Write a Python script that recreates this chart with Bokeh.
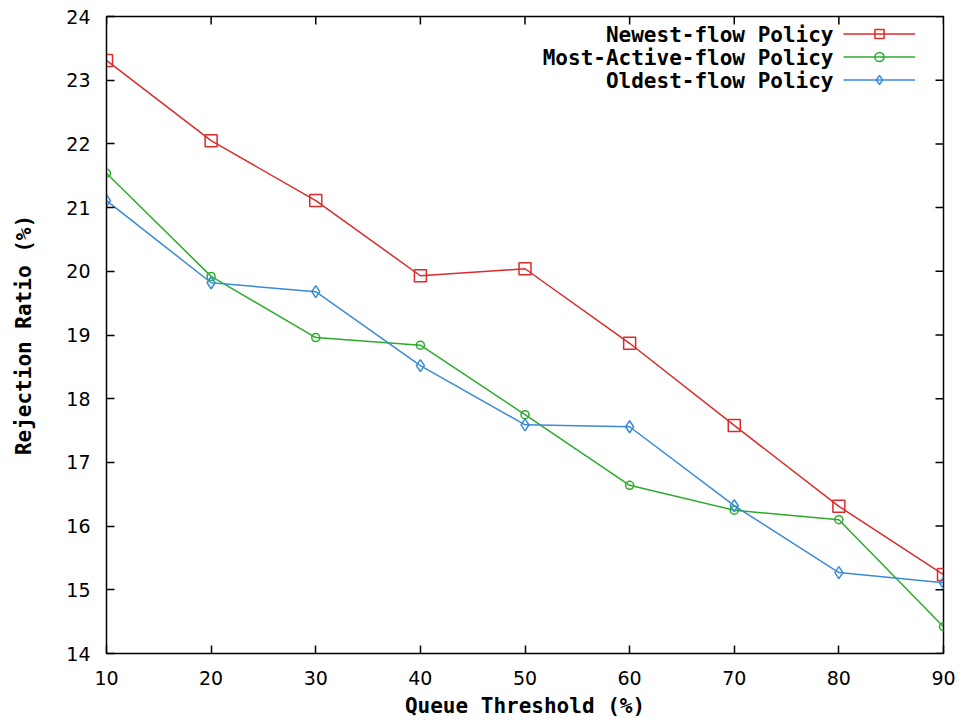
import math
from bokeh.plotting import figure
from bokeh.models import Range1d, FixedTicker, Legend, LegendItem, Label
from bokeh.embed import file_html
from bokeh.resources import INLINE

thresholds = [10, 20, 30, 40, 50, 60, 70, 80, 90]
newest = [23.31, 22.05, 21.11, 19.93, 20.04, 18.87, 17.58, 16.31, 15.24]
most_active = [21.54, 19.92, 18.96, 18.84, 17.75, 16.64, 16.25, 16.10, 14.42]
oldest = [21.11, 19.82, 19.68, 18.52, 17.59, 17.56, 16.32, 15.27, 15.11]
series_names = ["Newest-flow Policy", "Most-Active-flow Policy", "Oldest-flow Policy"]
colors = ["#dd2a2a", "#2aac2a", "#3a8ad8"]
x_ticks = [10, 20, 30, 40, 50, 60, 70, 80, 90]
y_ticks = [14, 15, 16, 17, 18, 19, 20, 21, 22, 23, 24]

MONO = "DejaVu Sans Mono"

p = figure(width=962, height=722, output_backend="svg", toolbar_location=None,
           x_range=Range1d(x_ticks[0], x_ticks[-1]), y_range=Range1d(y_ticks[0], y_ticks[-1]),
           min_border_left=106, min_border_top=16, min_border_right=19, min_border_bottom=69)
p.background_fill_color = "white"
p.border_fill_color = "white"
p.outline_line_color = "black"
p.outline_line_width = 1.5
p.xgrid.visible = False
p.ygrid.visible = False

for ax, ticks in ((p.xaxis[0], x_ticks), (p.yaxis[0], y_ticks)):
    ax.ticker = FixedTicker(ticks=ticks)
    ax.major_tick_in = 8
    ax.major_tick_out = 0
    ax.minor_tick_line_color = None
    ax.axis_line_color = "black"
    ax.major_tick_line_color = "black"
    ax.major_tick_line_width = 1.5
    ax.major_label_text_font = "DejaVu Sans"
    ax.major_label_text_font_size = "19px"
    ax.major_label_text_color = "black"
    ax.axis_label_text_font = MONO
    ax.axis_label_text_font_style = "bold"
    ax.axis_label_text_font_size = "21px"
    ax.axis_label_text_color = "black"

p.xaxis[0].major_label_standoff = 17
p.yaxis[0].major_label_standoff = 16
p.xaxis[0].axis_label = "Queue Threshold (%)"
p.yaxis[0].axis_label = "Rejection Ratio (%)"
p.xaxis[0].axis_label_standoff = 6
p.yaxis[0].axis_label_standoff = 27

# mirrored inward ticks on top and right edges (clipped to the frame)
p.scatter(x_ticks, [y_ticks[-1]] * len(x_ticks), marker="dash", angle=math.pi / 2,
          size=16, line_color="black", line_width=1.5)
p.scatter([x_ticks[-1]] * len(y_ticks), y_ticks, marker="dash",
          size=16, line_color="black", line_width=1.5)

data = [newest, most_active, oldest]
markers = ["square", "circle", "diamond"]
sizes = [12, 8, 12]
items = []
for vals, col, mk, sz in zip(data, colors, markers, sizes):
    ln = p.line(thresholds, vals, line_color=col, line_width=1.5)
    sc = p.scatter(thresholds, vals, marker=mk, size=sz, fill_color=None,
                   line_color=col, line_width=1.5)
    items.append(LegendItem(label=" ", renderers=[ln, sc]))

legend = Legend(items=items, location=(737, 562), glyph_width=72, glyph_height=23,
                label_height=23, spacing=0, padding=0, margin=0, label_standoff=0,
                label_text_font_size="8px", background_fill_alpha=0,
                border_line_color=None)
p.add_layout(legend)

row_y = [619, 596, 573]
for name, yy in zip(series_names, row_y):
    p.add_layout(Label(x=727, y=yy, x_units="screen", y_units="screen", text=name,
                       text_align="right", text_baseline="middle",
                       text_font=MONO, text_font_style="bold",
                       text_font_size="21px", text_color="black"))

open("out.html", "w").write(file_html(p, INLINE))
